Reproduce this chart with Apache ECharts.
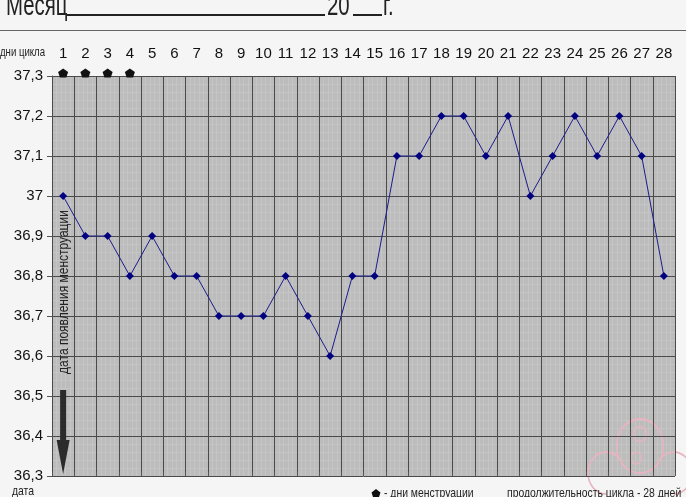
<!DOCTYPE html>
<html><head><meta charset="utf-8">
<script src="https://cdn.jsdelivr.net/npm/echarts@6/dist/echarts.min.js"></script>
<style>html,body{margin:0;padding:0;background:#f5f5f5}#c{width:686px;height:497px}</style>
</head><body><div id="c"></div>
<script>
const days = ['1','2','3','4','5','6','7','8','9','10','11','12','13','14','15','16','17','18','19','20','21','22','23','24','25','26','27','28'];
const temps = [37.0,36.9,36.9,36.8,36.9,36.8,36.8,36.7,36.7,36.7,36.8,36.7,36.6,36.8,36.8,37.1,37.1,37.2,37.2,37.1,37.2,37.0,37.1,37.2,37.1,37.2,37.1,36.8];
const mensDays = ['1','2','3','4'];
const yMin = 36.3, yMax = 37.3, yStep = 0.1;
const titleParts = ['Месяц', '20', 'г.'];
const topLabel = 'дни цикла';
const vertNote = 'дата появления менструации';
const bottomLeft = 'дата';
const legendText = '- дни менструации';
const cycleText = 'продолжительность цикла - 28 дней';

const FONT = "'Liberation Sans',Arial,sans-serif";
const pent = 'path://M5,0 L10,3.8 L8.2,10 L1.8,10 L0,3.8 Z';

const chart = echarts.init(document.getElementById('c'));
const fmt = v => (Math.round(v * 10) / 10).toString().replace('.', ',');

chart.setOption({
  backgroundColor: '#f5f5f5',
  animation: false,
  grid: { left: 52, top: 76, width: 623, height: 400, show: true, backgroundColor: '#bcbcbc', borderWidth: 0 },
  xAxis: [{
    type: 'category', data: days, position: 'top', boundaryGap: true, z: 2,
    axisLine: { show: false },
    axisTick: { show: true, length: 4, lineStyle: { color: '#555' } },
    axisLabel: { color: '#111', fontSize: 15, margin: 15, fontFamily: FONT, interval: 0 },
    splitLine: { show: true, lineStyle: { color: '#4a4a4a', width: 1 } }
  }, {
    type: 'value', min: 0, max: 28, interval: 1, position: 'bottom', z: 0,
    axisLine: { show: false }, axisTick: { show: false }, axisLabel: { show: false },
    splitLine: { show: false },
    minorTick: { show: false, splitNumber: 5 },
    minorSplitLine: { show: true, lineStyle: { color: '#c5c5c5', width: 1 } }
  }],
  yAxis: [{
    type: 'value', min: yMin, max: yMax, interval: yStep, z: 2,
    axisLine: { show: true, lineStyle: { color: '#4a4a4a' } },
    axisTick: { show: true, length: 5, lineStyle: { color: '#555' } },
    axisLabel: { color: '#111', fontSize: 15, margin: 9, formatter: fmt, fontFamily: FONT },
    splitLine: { show: true, lineStyle: { color: '#4a4a4a', width: 1 } }
  }, {
    type: 'value', min: 0, max: 10, interval: 1, position: 'right', z: 0,
    axisLine: { show: false }, axisTick: { show: false }, axisLabel: { show: false },
    splitLine: { show: false },
    minorTick: { show: false, splitNumber: 5 },
    minorSplitLine: { show: true, lineStyle: { color: '#c5c5c5', width: 1 } }
  }],
  series: [{
    type: 'line', data: temps, xAxisIndex: 0, yAxisIndex: 0,
    symbol: 'diamond', symbolSize: 8, showAllSymbol: true,
    itemStyle: { color: '#000080' },
    lineStyle: { color: '#1b1b8c', width: 1 },
    z: 5
  }, {
    type: 'scatter', xAxisIndex: 0, yAxisIndex: 0,
    data: mensDays.map(d => [d, yMax]),
    symbol: pent, symbolSize: [10, 9], symbolOffset: [0, -3],
    itemStyle: { color: '#111', opacity: 1 }, clip: false, z: 6
  }]
});

// annotations placed through axis scales
const p = (d, v) => chart.convertToPixel({ xAxisIndex: 0, yAxisIndex: 0 }, [d, v]);
const aTop = p('1', 36.515), aNeck = p('1', 36.39), aTip = p('1', yMin + 0.005);
const tc = p('1', 36.76);
const lg = [372, 493];
const pink = '#e8b4c0';
chart.setOption({
  graphic: [
    { type: 'polygon', shape: { points: [
      [aTop[0] - 3, aTop[1]], [aTop[0] + 3, aTop[1]], [aTop[0] + 3, aNeck[1]], [aTop[0] + 6.5, aNeck[1]],
      [aTip[0], aTip[1]], [aTop[0] - 6.5, aNeck[1]], [aTop[0] - 3, aNeck[1]]
    ] }, style: { fill: '#2b2b2b' }, z: 100 },
    { type: 'text', x: tc[0] + 1, y: tc[1], rotation: Math.PI / 2, scaleX: 0.8, z: 100,
      style: { text: vertNote, font: "15px " + FONT, fill: '#222', align: 'center', verticalAlign: 'middle' } },
    { type: 'text', x: 0, y: 53, scaleX: 0.8, z: 100, style: { text: topLabel, font: "12px " + FONT, fill: '#222', align: 'left', verticalAlign: 'middle' } },
    { type: 'text', x: 6, y: 22, scaleX: 0.68, z: 100, style: { text: titleParts[0], font: "30px " + FONT, fill: '#222', align: 'left', verticalAlign: 'bottom' } },
    { type: 'line', shape: { x1: 67, y1: 15, x2: 325, y2: 15 }, style: { stroke: '#222', lineWidth: 2 } },
    { type: 'text', x: 327, y: 22, scaleX: 0.68, z: 100, style: { text: titleParts[1], font: "30px " + FONT, fill: '#222', align: 'left', verticalAlign: 'bottom' } },
    { type: 'line', shape: { x1: 353, y1: 15, x2: 382, y2: 15 }, style: { stroke: '#222', lineWidth: 2 } },
    { type: 'text', x: 383, y: 22, scaleX: 0.68, z: 100, style: { text: titleParts[2], font: "30px " + FONT, fill: '#222', align: 'left', verticalAlign: 'bottom' } },
    { type: 'line', shape: { x1: 0, y1: 30.5, x2: 686, y2: 30.5 }, style: { stroke: '#666', lineWidth: 1 } },
    { type: 'text', x: 12, y: 485, scaleX: 0.8, z: 100, style: { text: bottomLeft, font: "13px " + FONT, fill: '#222', align: 'left', verticalAlign: 'top' } },
    { type: 'polygon', shape: { points: [[lg[0]+4,lg[1]-4],[lg[0]+8.5,lg[1]-0.6],[lg[0]+7,lg[1]+4],[lg[0]+1,lg[1]+4],[lg[0]-0.5,lg[1]-0.6]] }, style: { fill: '#111' }, z: 100 },
    { type: 'text', x: 384, y: 487, scaleX: 0.8, z: 100, style: { text: legendText, font: "13px " + FONT, fill: '#222', align: 'left', verticalAlign: 'top' } },
    { type: 'text', x: 507, y: 487, scaleX: 0.8, z: 100, style: { text: cycleText, font: "13px " + FONT, fill: '#222', align: 'left', verticalAlign: 'top' } },
    // faint pink watermark
    { type: 'group', x: 640, y: 452, scaleX: 1.3, scaleY: 1.5, z: 120, children: [
      { type: 'circle', shape: { cx: 0, cy: -4, r: 18 }, style: { fill: 'none', stroke: pink, lineWidth: 1.2 } },
      { type: 'arc', shape: { cx: -26, cy: 14, r: 14, startAngle: Math.PI * 0.5, endAngle: Math.PI * 1.9 }, style: { fill: 'none', stroke: pink, lineWidth: 1.2 } },
      { type: 'arc', shape: { cx: 26, cy: 14, r: 14, startAngle: -Math.PI * 0.9, endAngle: Math.PI * 0.5 }, style: { fill: 'none', stroke: pink, lineWidth: 1.2 } },
      { type: 'circle', shape: { cx: 0, cy: -12, r: 5 }, style: { fill: 'none', stroke: pink, lineWidth: 1 } },
      { type: 'circle', shape: { cx: -3, cy: 4, r: 4 }, style: { fill: 'none', stroke: pink, lineWidth: 1 } }
    ] }
  ]
});
</script>
</body></html>
